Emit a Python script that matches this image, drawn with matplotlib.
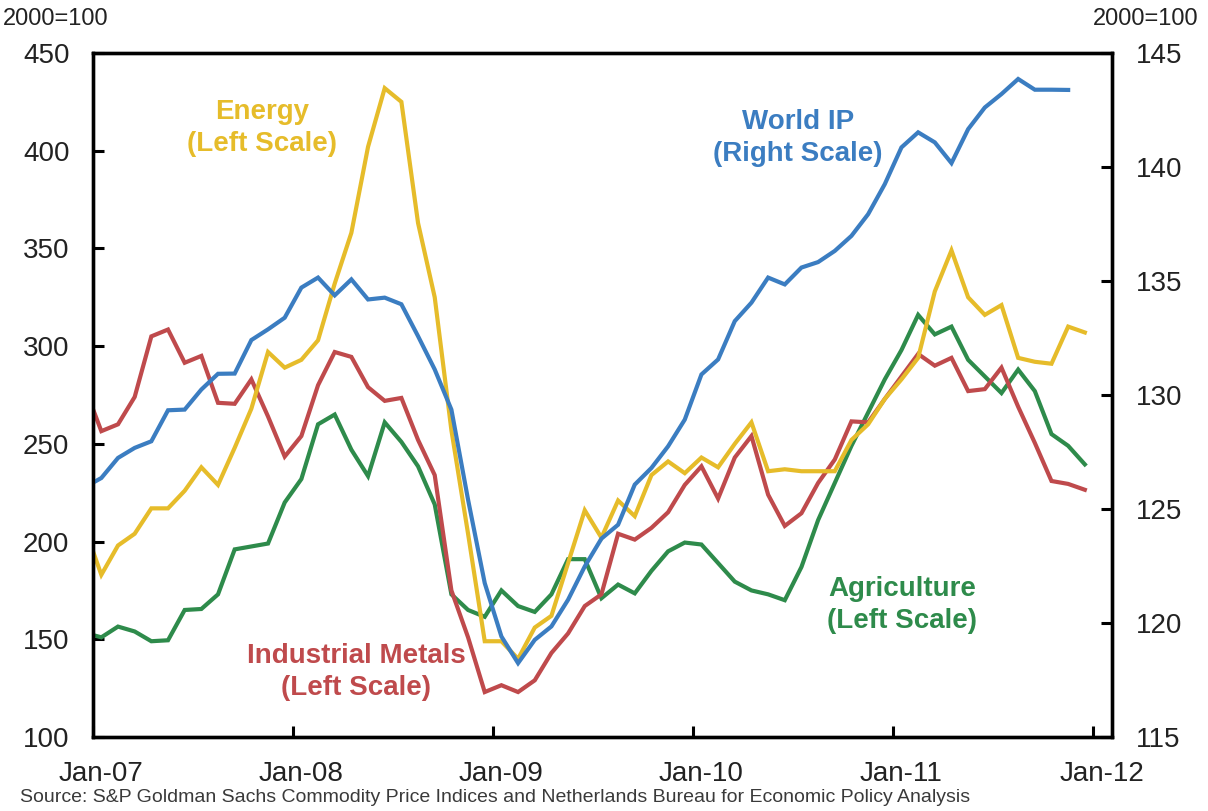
import numpy as np
import matplotlib
matplotlib.use("Agg")
import matplotlib.pyplot as plt
from matplotlib.ticker import FixedLocator, NullFormatter

plt.rcParams['font.family'] = ['Liberation Sans', 'DejaVu Sans']

# months since Jan-2007 (index -1 = Dec-2006), plotted at mid-month
month_index = np.arange(-1, 60)

energy = [207, 183, 198, 204, 217, 217, 226, 238, 229, 248, 268,
          297, 289, 293, 303, 332, 358, 402, 432, 425, 363, 325,
          257, 204, 149, 149, 140, 156, 162, 189, 216, 202,
          221, 213, 234, 241, 235, 243, 238, 250, 261, 236,
          237, 236, 236, 236, 252, 260, 273, 283, 294, 328,
          349, 325, 316, 321, 294, 292, 291, 310, 307]

metals = [279, 256.5, 260, 274, 305, 308.5, 291.5, 295, 271, 270.5, 283,
          264, 243.5, 254, 280, 297, 294.5, 279, 272, 273.5, 252, 234,
          175, 151, 123, 126.5, 123, 129, 143, 153, 167, 173,
          204, 201, 207, 215, 229, 238.5, 222, 243, 254, 224,
          208, 214.5, 230, 242, 261.5, 261, 273, 284.5, 296, 290,
          294, 277, 278, 289, 269, 250.5, 231, 229.5, 226.5]

agriculture = [153.3, 151, 156.5, 154, 149, 149.5, 165, 165.5, 173, 196, 197.5,
               199, 220, 232, 260, 265, 247, 233.5, 261, 251, 238.5, 219,
               173, 165, 161.5, 175, 167, 164, 173, 191, 191, 171,
               178, 173.5, 185, 195, 199.5, 198.5, 189, 179.5, 175, 173,
               170, 187, 211, 230, 249, 266, 283, 298, 316, 306,
               310, 293, 284.5, 276, 288, 277, 255, 249, 239.5]

world_ip = [125.95, 126.36, 127.24, 127.68, 127.97, 129.33, 129.36, 130.24, 130.93, 130.94, 132.41,
            132.88, 133.39, 134.71, 135.15, 134.37, 135.07, 134.19, 134.27, 133.98, 132.58, 131.12,
            129.36, 125.41, 121.75, 119.41, 118.24, 119.26, 119.85, 121.02, 122.48, 123.70,
            124.31, 126.07, 126.80, 127.75, 128.92, 130.90, 131.56, 133.24, 134.05, 135.15,
            134.85, 135.59, 135.83, 136.32, 136.98, 137.93, 139.25, 140.86, 141.52, 141.08,
            140.17, 141.66, 142.61, 143.20, 143.86, 143.39, 143.39, 143.38]

year_ticks = [0, 12, 24, 36, 48, 60]
year_labels = ['Jan-07', 'Jan-08', 'Jan-09', 'Jan-10', 'Jan-11', 'Jan-12']
left_ticks = [100, 150, 200, 250, 300, 350, 400, 450]
right_ticks = [115, 120, 125, 130, 135, 140, 145]

C_EN = '#E6BC2A'
C_IP = '#3B7DC1'
C_MET = '#BF4A4C'
C_AG = '#2E8B4B'
TXT = '#222222'

W, H = 1208, 811
fig = plt.figure(figsize=(W / 100, H / 100), dpi=100)
ax = fig.add_axes([93 / W, 1 - 737 / H, (1112 - 93) / W, (737 - 53) / H])
ax2 = ax.twinx()

x = month_index + 0.5
ax.plot(x, agriculture, color=C_AG, lw=3, solid_joinstyle='miter')
ax.plot(x, metals, color=C_MET, lw=3, solid_joinstyle='miter')
ax.plot(x, energy, color=C_EN, lw=3, solid_joinstyle='miter')
ax2.plot(x[:len(world_ip)], world_ip, color=C_IP, lw=3, solid_joinstyle='miter')

ax.set_xlim(0, 61.13)
ax.set_ylim(100, 450)
ax2.set_ylim(115, 145)

ax.set_yticks(left_ticks)
ax2.set_yticks(right_ticks)

# major ticks at Jan, labels centred on the January points
ax.xaxis.set_major_locator(FixedLocator(year_ticks))
ax.xaxis.set_major_formatter(NullFormatter())
ax.xaxis.set_minor_locator(FixedLocator([t + 0.5 for t in year_ticks]))
ax.set_xticklabels(year_labels, minor=True)
ax.tick_params(axis='x', which='minor', length=0, pad=17, labelsize=20, labelcolor=TXT)
ax.tick_params(axis='x', which='major', direction='in', length=8, width=2.2, top=False)
ax.tick_params(axis='y', direction='in', length=8, width=2.2, pad=17, labelsize=20, labelcolor=TXT)
ax2.tick_params(axis='y', direction='in', length=8, width=2.2, pad=17, labelsize=20, labelcolor=TXT)

for a in (ax, ax2):
    for s in a.spines.values():
        s.set_linewidth(2.4)
        s.set_color('black')

def ax_text(px, py, s, color):
    ax.text((px - 93) / (1112 - 93), (737 - py) / (737 - 53), s, transform=ax.transAxes,
            ha='center', va='center', multialignment='center', fontsize=20,
            fontweight='bold', color=color, linespacing=1.27)

ax_text(262, 128, 'Energy\n(Left Scale)', C_EN)
ax_text(798, 138, 'World IP\n(Right Scale)', C_IP)
ax_text(356, 672, 'Industrial Metals\n(Left Scale)', C_MET)
ax_text(902, 605, 'Agriculture\n(Left Scale)', C_AG)

fig.text(3 / W, 1 - 19 / H, '2000=100', ha='left', va='center', fontsize=17, color=TXT)
fig.text(1198 / W, 1 - 19 / H, '2000=100', ha='right', va='center', fontsize=17, color=TXT)
fig.text(20 / W, 1 - 797 / H,
         'Source: S&P Goldman Sachs Commodity Price Indices and Netherlands Bureau for Economic Policy Analysis',
         ha='left', va='center', fontsize=14, color='#3a3a3a')

fig.savefig('out.png', dpi=100)
